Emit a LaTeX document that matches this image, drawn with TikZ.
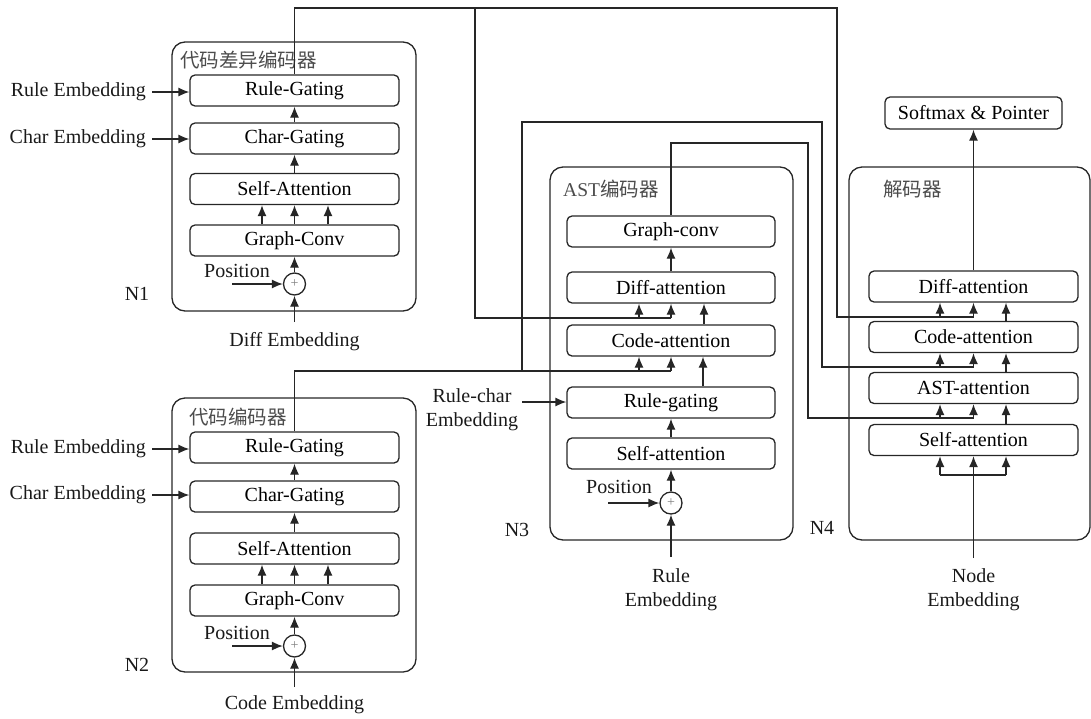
\documentclass[tikz,border=0pt]{standalone}
\usepackage{fontspec}
\setmainfont{Liberation Serif}
\newfontfamily\cjk{Noto Sans CJK SC}
\usetikzlibrary{arrows.meta}
\newcommand\lab{\fontsize{20}{24}\selectfont}
\begin{document}
\begin{tikzpicture}[x=1pt,y=-1pt,
  box/.style={draw=black!85, rounded corners=5pt, minimum width=209pt, minimum height=31pt, inner sep=0pt, font=\lab, line width=1.3pt},
  frame/.style={draw=black!85, rounded corners=13pt, line width=1.3pt},
  ln/.style={draw=black!85, line width=1.3pt},
  arr/.style={draw=black!85, line width=1.3pt, -{Latex[length=11pt,width=9pt]}},
  plus/.style={circle, draw=black!85, minimum size=22pt, inner sep=0pt, line width=1.3pt, font=\fontsize{14}{14}\selectfont, text=black!50},
  txt/.style={font=\lab, inner sep=0pt, text=black!90},
  ttl/.style={font=\cjk\fontsize{19.5}{22}\selectfont, inner sep=0pt, text=black!70, anchor=west},
  lbl/.style={font=\lab, inner sep=0pt, align=center, text=black!90}]
\useasboundingbox (0,0) rectangle (1091,718);

% ---------------- N1 : code diff encoder
\draw[frame] (172,42) rectangle (416,311);
\node[ttl] (t1) at (180,60) {代码差异编码器};
\node[box] (r1) at (294.5,90.5) {Rule-Gating};
\node[box] (c1) at (294.5,138.5) {Char-Gating};
\node[box] (s1) at (294.5,189) {Self-Attention};
\node[box] (g1) at (294.5,240.5) {Graph-Conv};
\node[plus] (p1) at (294.5,284) {+};
\node[txt, anchor=east] (re1) at (146,92) {Rule Embedding};
\node[txt, anchor=east] (ce1) at (146,139) {Char Embedding};
\node[txt] (pos1) at (237,271) {Position};
\node[txt] (n1) at (137,294) {N1};
\node[txt] (de1) at (294.5,342) {Diff Embedding};
\coordinate (pos1s) at (232,284);
\coordinate (de1s) at (294.5,322);
\draw[arr] ([xshift=6pt]re1.east) -- (re1.east -| r1.west);
\draw[arr] ([xshift=6pt]ce1.east) -- (ce1.east -| c1.west);
\draw[arr] (c1.north) -- (r1.south);
\draw[arr] (s1.north) -- (c1.south);
\foreach \d in {-32.5,0,33.5}
  \draw[arr] ([xshift=\d pt]g1.north) -- ([xshift=\d pt]s1.south);
\draw[arr] (p1.north) -- (g1.south);
\draw[arr] (pos1s) -- (p1.west);
\draw[arr] (de1s) -- (p1.south);

% ---------------- N2 : code encoder
\draw[frame] (172,398) rectangle (416,672);
\node[ttl] (t2) at (189,417) {代码编码器};
\node[box] (r2) at (294.5,447.5) {Rule-Gating};
\node[box] (c2) at (294.5,496.5) {Char-Gating};
\node[box] (s2) at (294.5,548.5) {Self-Attention};
\node[box] (g2) at (294.5,600.5) {Graph-Conv};
\node[plus] (p2) at (294.5,646) {+};
\node[txt, anchor=east] (re2) at (146,449) {Rule Embedding};
\node[txt, anchor=east] (ce2) at (146,495) {Char Embedding};
\node[txt] (pos2) at (237,633) {Position};
\node[txt] (n2) at (137,665) {N2};
\node[txt] (ce) at (294.5,705) {Code Embedding};
\coordinate (pos2s) at (232,646);
\coordinate (ce2s) at (294.5,687);
\draw[arr] ([xshift=6pt]re2.east) -- (re2.east -| r2.west);
\draw[arr] ([xshift=6pt]ce2.east) -- (ce2.east -| c2.west);
\draw[arr] (c2.north) -- (r2.south);
\draw[arr] (s2.north) -- (c2.south);
\foreach \d in {-32.5,0,33.5}
  \draw[arr] ([xshift=\d pt]g2.north) -- ([xshift=\d pt]s2.south);
\draw[arr] (p2.north) -- (g2.south);
\draw[arr] (pos2s) -- (p2.west);
\draw[arr] (ce2s) -- (p2.south);

% ---------------- N3 : AST encoder
\draw[frame] (550,167) rectangle (793,540);
\node[ttl] (t3) at (563,189) {\fontspec{Liberation Serif}AST\cjk 编码器};
\node[box, minimum width=208pt] (gc) at (671,231.5) {Graph-conv};
\node[box, minimum width=208pt] (da) at (671,287.5) {Diff-attention};
\node[box, minimum width=208pt] (ca) at (671,340.5) {Code-attention};
\node[box, minimum width=208pt] (rg) at (671,402.5) {Rule-gating};
\node[box, minimum width=208pt] (sa) at (671,453.5) {Self-attention};
\node[plus] (p3) at (671,503) {+};
\node[txt] (pos3) at (619,487) {Position};
\node[txt] (n3) at (517,530) {N3};
\node[lbl] (rce) at (472,410) {Rule-char\\Embedding};
\node[lbl] (re3) at (671,589.5) {Rule\\Embedding};
\coordinate (pos3s) at (608,503);
\coordinate (re3s) at (671,557);
\coordinate (rces) at (522,402);
\draw[arr] (rces) -- (rces -| rg.west);
\draw[arr] (da.north) -- (gc.south);
\draw[arr] ([xshift=33pt]ca.north) -- ([xshift=33pt]da.south);
\draw[arr] ([xshift=32pt]rg.north) -- ([xshift=32pt]ca.south);
\draw[arr] (sa.north) -- (rg.south);
\draw[arr] (p3.north) -- (sa.south);
\draw[arr] (pos3s) -- (p3.west);
\draw[arr] (re3s) -- (p3.south);

% ---------------- N4 : decoder
\draw[frame] (849,167) rectangle (1090,540);
\node[ttl] (t4) at (883,189) {解码器};
\node[box] (sm) at (973.5,113) [minimum width=177pt, minimum height=32pt] {Softmax \& Pointer};
\node[box] (dd) at (973.5,286.5) {Diff-attention};
\node[box] (dc) at (973.5,337) {Code-attention};
\node[box] (dast) at (973.5,388) {AST-attention};
\node[box] (ds) at (973.5,440) {Self-attention};
\node[txt] (n4) at (822,528) {N4};
\node[lbl] (ne) at (973.5,589.5) {Node\\Embedding};
\coordinate (nes) at (973.5,558);
\coordinate (nej) at (973.5,475);
\draw[arr] (dd.north) -- (sm.south);
\draw[arr] ([xshift=32.5pt]dc.north) -- ([xshift=32.5pt]dd.south);
\draw[arr] ([xshift=32.5pt]dast.north) -- ([xshift=32.5pt]dc.south);
\draw[arr] ([xshift=32.5pt]ds.north) -- ([xshift=32.5pt]dast.south);
\draw[arr] (nes) -- (ds.south);
\draw[ln] ([xshift=-33.5pt]nej) -- ([xshift=32.5pt]nej);
\draw[arr] ([xshift=-33.5pt]nej) -- ([xshift=-33.5pt]ds.south);
\draw[arr] ([xshift=32.5pt]nej) -- ([xshift=32.5pt]ds.south);

% ---------------- long connectors
% N1 output -> AST Diff-attention and decoder Diff-attention
\coordinate (k1) at (837,8);
\coordinate (k1b) at (475,8);
\coordinate (h1) at (837,317);
\coordinate (h1a) at (475,318);
\draw[ln] (r1.north) |- (k1) -- (h1) -- (h1 -| dd.south);
\draw[arr] (h1 -| dd.south) -- (dd.south);
\draw[arr] ([xshift=-33.5pt]dd.south |- h1) -- ([xshift=-33.5pt]dd.south);
\draw[ln] (k1b) -- (h1a) -- (h1a -| da.south);
\draw[arr] (h1a -| da.south) -- (da.south);
\draw[arr] ([xshift=-32pt]da.south |- h1a) -- ([xshift=-32pt]da.south);

% N2 output -> AST Code-attention and decoder Code-attention
\coordinate (h2) at (294.5,371);
\coordinate (k2) at (522,371);
\coordinate (k2t) at (522,122);
\coordinate (k2r) at (822,122);
\coordinate (h2d) at (822,367);
\draw[ln] (r2.north) -- (h2) -- (h2 -| ca.south);
\draw[arr] (h2 -| ca.south) -- (ca.south);
\draw[arr] ([xshift=-32pt]ca.south |- h2) -- ([xshift=-32pt]ca.south);
\draw[ln] (k2) -- (k2t) -- (k2r) -- (h2d) -- (h2d -| dc.south);
\draw[arr] (h2d -| dc.south) -- (dc.south);
\draw[arr] ([xshift=-33.5pt]dc.south |- h2d) -- ([xshift=-33.5pt]dc.south);

% AST output -> decoder AST-attention
\coordinate (k3) at (808,143);
\coordinate (h3) at (808,418);
\draw[ln] (gc.north) |- (k3) -- (h3) -- (h3 -| dast.south);
\draw[arr] (h3 -| dast.south) -- (dast.south);
\draw[arr] ([xshift=-33.5pt]dast.south |- h3) -- ([xshift=-33.5pt]dast.south);
\end{tikzpicture}
\end{document}
